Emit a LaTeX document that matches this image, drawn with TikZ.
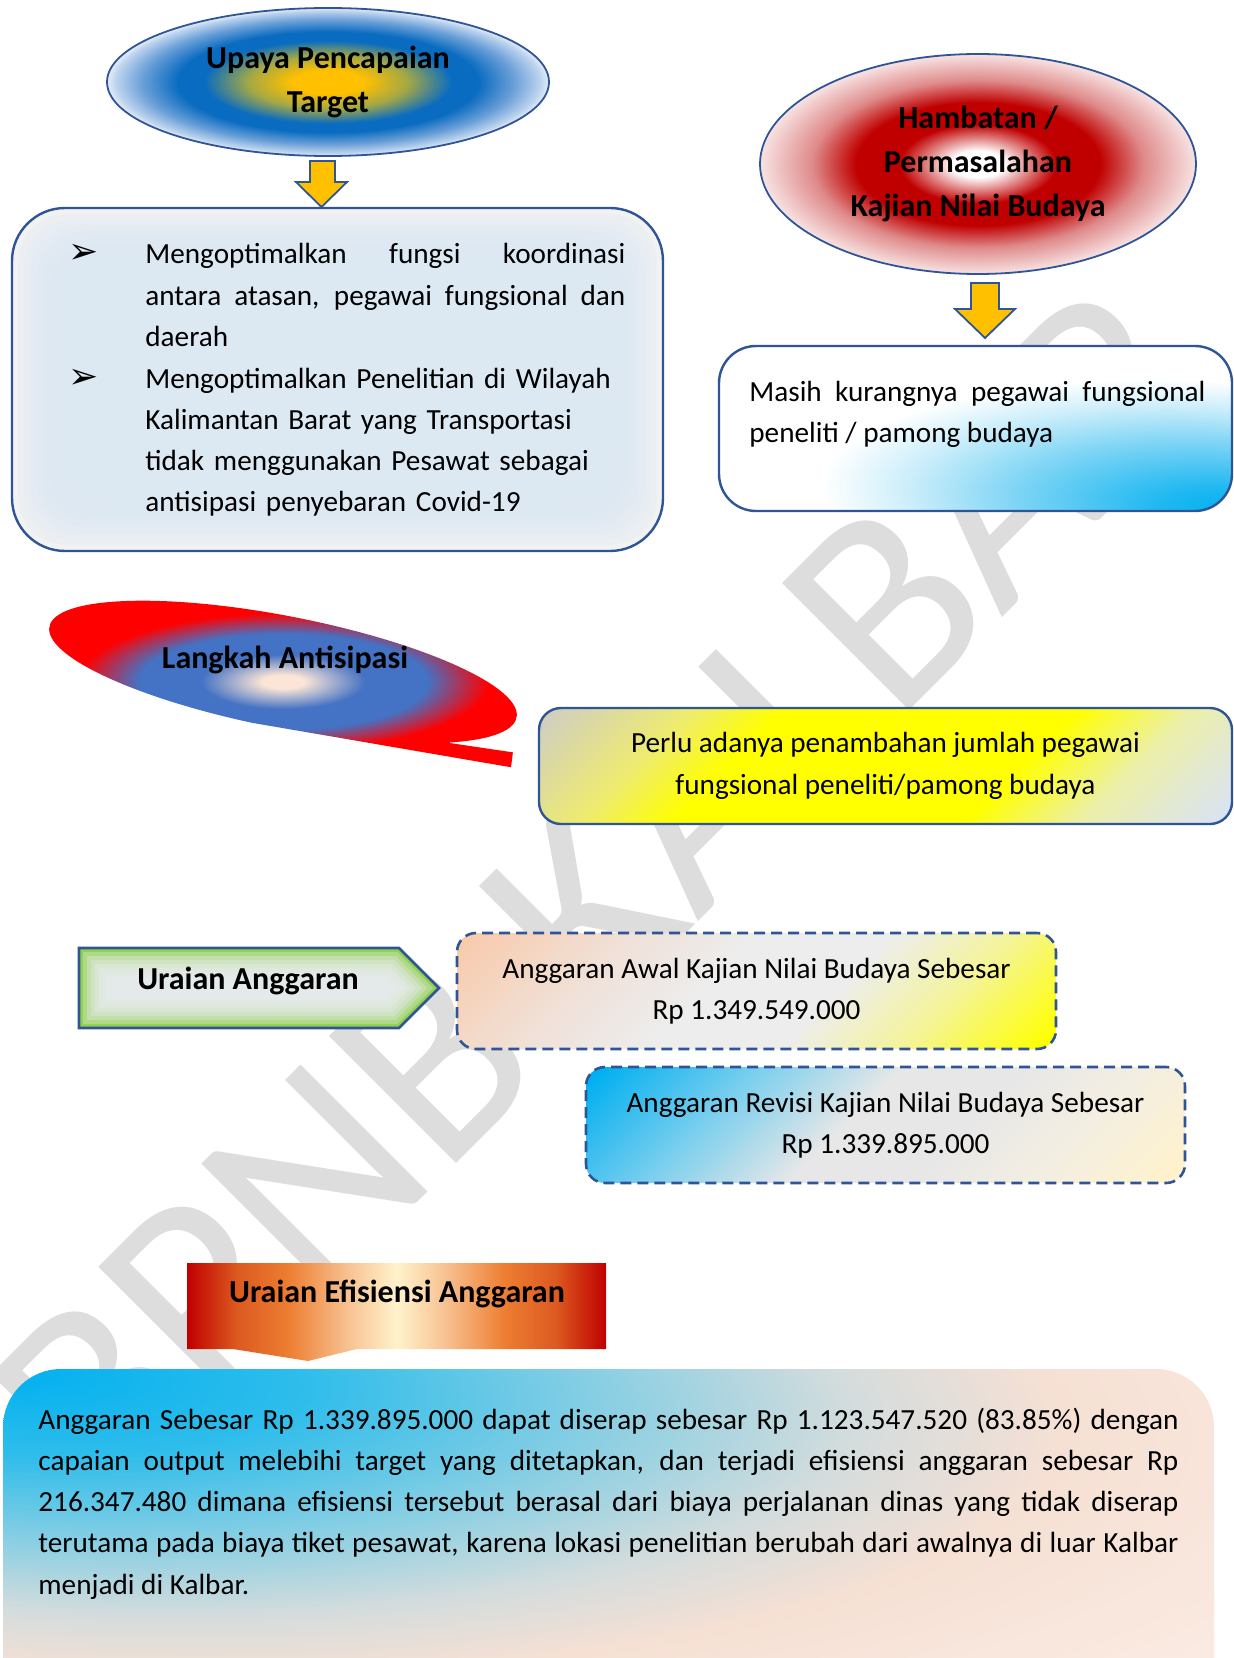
\documentclass[tikz,border=0pt]{standalone}
\usepackage{fontspec}
\setmainfont{Carlito}
\newfontfamily\dingfont{DejaVu Sans}
\usetikzlibrary{shapes.geometric}
\tolerance=9999
\hbadness=10000
\hyphenpenalty=10000

\definecolor{BorderBlue}{HTML}{2F5597}
\definecolor{ArrowGold}{HTML}{FFC000}
\definecolor{MarkGray}{HTML}{DDDDDD}
\definecolor{PaleBlue}{HTML}{DCE8F5}
\definecolor{GlowWhite}{HTML}{F2F2F2}
\definecolor{LeafGreen}{HTML}{92D050}
\definecolor{MistWhite}{HTML}{EBEEF5}
% ellipse colours
\definecolor{OliveMix}{HTML}{A4A845}
\definecolor{CoreBlue}{HTML}{0A6CC0}
\definecolor{SkyBlue}{HTML}{6A9FD8}
\definecolor{IceBlue}{HTML}{BCD3EE}
\definecolor{EdgeBlue}{HTML}{E4EDF7}
\definecolor{CrimsonRed}{HTML}{C00000}
\definecolor{RoseRed}{HTML}{DF8A8A}
\definecolor{BlushPink}{HTML}{F8E3E3}
\definecolor{PeachCore}{HTML}{FBE5D6}
\definecolor{BlueMid}{HTML}{4472C4}
\definecolor{PureRed}{HTML}{FF0000}
% box colours
\definecolor{KhakiGray}{HTML}{D1CFBF}
\definecolor{LemonMix}{HTML}{EEEB70}
\definecolor{PureYellow}{HTML}{FFFF00}
\definecolor{PaleYellow}{HTML}{ECEFA8}
\definecolor{LavenderBlue}{HTML}{DAE3F3}
\definecolor{SalmonPeach}{HTML}{F8CBAD}
\definecolor{AshPeach}{HTML}{F0E2DA}
\definecolor{SoftGray}{HTML}{EDEDED}
\definecolor{ButterYellow}{HTML}{F4F49A}
\definecolor{CyanBright}{HTML}{00B0F0}
\definecolor{CyanSoft}{HTML}{7DCFEE}
\definecolor{CloudGray}{HTML}{E7E7E7}
\definecolor{CreamGray}{HTML}{F3EEE2}
\definecolor{CreamYellow}{HTML}{FFF2CC}
\definecolor{RustRed}{HTML}{DC5A20}
\definecolor{FlameOrange}{HTML}{ED7D31}
\definecolor{ApricotLight}{HTML}{F7C08F}
\definecolor{CyanMid}{HTML}{22B9F1}
\definecolor{CyanLight}{HTML}{7FD5F5}
\definecolor{CyanPale}{HTML}{C9EDFA}
\definecolor{SeaBlue}{HTML}{2FBDEB}
\definecolor{HazeBlue}{HTML}{8ACFE3}
\definecolor{HazeGray}{HTML}{D3DCDD}
\definecolor{PeachSoft}{HTML}{F6E0D4}
\definecolor{PeachLight}{HTML}{FAE9E0}
\definecolor{PeachFaint}{HTML}{FDF5F1}

% shadings
\pgfdeclareradialshading{upayashade}{\pgfpoint{0bp}{0bp}}{%
  color(0bp)=(ArrowGold); color(4bp)=(ArrowGold); color(9bp)=(OliveMix);
  color(14bp)=(CoreBlue); color(17bp)=(CoreBlue); color(21bp)=(SkyBlue);
  color(24bp)=(IceBlue); color(25bp)=(EdgeBlue); color(50bp)=(EdgeBlue)}
\pgfdeclareradialshading{hambatanshade}{\pgfpoint{0bp}{0bp}}{%
  color(0bp)=(white); color(3bp)=(white); color(9bp)=(CrimsonRed);
  color(14bp)=(CrimsonRed); color(19bp)=(RoseRed); color(25bp)=(BlushPink);
  color(50bp)=(BlushPink)}
\pgfdeclareradialshading{langshade}{\pgfpoint{0bp}{0bp}}{%
  color(0bp)=(PeachCore); color(2bp)=(PeachCore); color(8bp)=(BlueMid);
  color(14bp)=(BlueMid); color(20bp)=(PureRed); color(50bp)=(PureRed)}
\pgfdeclareradialshading{masihshade}{\pgfpoint{25bp}{-25bp}}{%
  color(0bp)=(CyanBright); color(6bp)=(CyanMid); color(17bp)=(CyanLight);
  color(25bp)=(CyanPale); color(32bp)=(white); color(100bp)=(white)}
\pgfdeclareradialshading{noteshade}{\pgfpoint{-25bp}{25bp}}{%
  color(0bp)=(CyanBright); color(10bp)=(SeaBlue); color(20bp)=(HazeBlue);
  color(28bp)=(HazeGray); color(35bp)=(PeachSoft); color(46bp)=(PeachLight);
  color(60bp)=(PeachFaint); color(70bp)=(white); color(100bp)=(white)}
\pgfdeclarehorizontalshading{perlushade}{100bp}{%
  color(0bp)=(KhakiGray); color(16bp)=(KhakiGray); color(28bp)=(LemonMix);
  color(36bp)=(PureYellow); color(62bp)=(PureYellow); color(72bp)=(PaleYellow);
  color(84bp)=(LavenderBlue); color(100bp)=(LavenderBlue)}
\pgfdeclarehorizontalshading{awalshade}{100bp}{%
  color(0bp)=(SalmonPeach); color(16bp)=(SalmonPeach); color(33bp)=(AshPeach);
  color(45bp)=(SoftGray); color(58bp)=(SoftGray); color(70bp)=(ButterYellow);
  color(84bp)=(PureYellow); color(100bp)=(PureYellow)}
\pgfdeclarehorizontalshading{revisishade}{100bp}{%
  color(0bp)=(CyanBright); color(16bp)=(CyanBright); color(32bp)=(CyanSoft);
  color(46bp)=(CloudGray); color(58bp)=(CloudGray); color(70bp)=(CreamGray);
  color(84bp)=(CreamYellow); color(100bp)=(CreamYellow)}
\pgfdeclarehorizontalshading{efishade}{100bp}{%
  color(0bp)=(CrimsonRed); color(25bp)=(CrimsonRed); color(31bp)=(RustRed);
  color(37bp)=(FlameOrange); color(44bp)=(ApricotLight); color(50bp)=(CreamYellow);
  color(56bp)=(ApricotLight); color(63bp)=(FlameOrange); color(69bp)=(RustRed);
  color(75bp)=(CrimsonRed); color(100bp)=(CrimsonRed)}

\newcommand{\diagbody}{\fontsize{14.6}{20.65}\selectfont}
\newcommand{\diaghead}{\fontsize{16}{22}\selectfont\bfseries}

\tikzset{
  bodytext/.style={font=\diagbody, text=black, inner sep=0pt},
  headtext/.style={font=\diaghead, text=black, inner sep=0pt, align=center},
  bullettext/.style={font=\dingfont\fontsize{18}{18}\selectfont, text=black, inner sep=0pt, anchor=base},
  framebox/.style={draw=BorderBlue, line width=1.2pt},
  dashbox/.style={draw=BorderBlue, line width=1.3pt, dash pattern=on 5.5pt off 3pt,
    rounded corners=9.5pt, shade, shading angle=-45},
  blockarrow/.style={fill=ArrowGold, draw=BorderBlue, line width=0.9pt, line join=miter},
  watermark/.style={rotate=45, font=\fontsize{140}{140}\selectfont, text=MarkGray, inner sep=0pt}
}

\begin{document}
\begin{tikzpicture}[x=0.5pt,y=-0.5pt]
  \useasboundingbox (0,0) rectangle (1234,1658);
  \begin{scope}
  \clip (0,0) rectangle (1234,1658);
  % Watermark
  \node[watermark] (mark) at (600,893) {BPNB KALBAR};

  % Upaya pencapaian target
  \node[ellipse, draw=BorderBlue, line width=0.9pt, shade, shading=upayashade,
    minimum width=221pt, minimum height=74pt, headtext] (upaya) at (328,82) {Upaya Pencapaian\\Target};
  \filldraw[blockarrow] (310,161) -- (335,161) -- (335,182) -- (347,182) -- (321.5,207)
    -- (296,182) -- (310,182) -- cycle;
  \fill[GlowWhite, rounded corners=26.5pt] (12,208) rectangle (663,551);
  \foreach \d in {6,12,...,54}
    \fill[PaleBlue, opacity=0.25, rounded corners=24pt] (12+\d,208+\d) rectangle (663-\d,551-\d);
  \draw[framebox, rounded corners=26.5pt] (12,208) rectangle (663,551);
  \node[bullettext] (bulletA) at (84,264) {➢};
  \node[bodytext, anchor=base west, text width=240pt, align=justify] (itemA) at (145,264)
    {Mengoptimalkan fungsi koordinasi\linebreak antara atasan, pegawai fungsional dan\linebreak daerah};
  \node[bullettext] (bulletB) at (84,388) {➢};
  \node[bodytext, anchor=base west, text width=240pt, align=left] (itemB) at (145,388)
    {Mengoptimalkan Penelitian di Wilayah\\Kalimantan Barat yang Transportasi\\tidak menggunakan Pesawat sebagai\\antisipasi penyebaran Covid-19};

  % Hambatan
  \node[ellipse, draw=BorderBlue, line width=0.9pt, shade, shading=hambatanshade,
    minimum width=218pt, minimum height=110pt, headtext] (hambatan) at (978,164)
    {Hambatan /\\Permasalahan\\Kajian Nilai Budaya};
  \filldraw[blockarrow] (971,283) -- (999,283) -- (999,309) -- (1015,309) -- (985,338)
    -- (955,309) -- (971,309) -- cycle;
  \path[shade, shading=masihshade, framebox, rounded corners=18.5pt] (719,346) rectangle (1232,511);
  \node[bodytext, anchor=base west, text width=228pt, align=justify] (masih) at (749,401)
    {Masih kurangnya pegawai fungsional\linebreak peneliti / pamong budaya};

  % Langkah antisipasi
  \begin{scope}[shift={(283,672)}, rotate=-11]
    \shade[shading=langshade] ({238*cos(42.7)},{56*sin(42.7)})
      arc[start angle=42.7, end angle=-265, x radius=238, y radius=56]
      -- (242,50) -- (241,35) -- cycle;
  \end{scope}
  \node[headtext] (langkah) at (285,660) {Langkah Antisipasi};
  \node[framebox, rounded corners=11pt, shade, shading=perlushade, shading angle=-45,
    minimum width=346.5pt, minimum height=58pt, bodytext, align=center] (perlu) at (885.5,766)
    {Perlu adanya penambahan jumlah pegawai\\fungsional peneliti/pamong budaya};

  % Uraian anggaran
  \fill[LeafGreen] (79,948) -- (399,948) -- (439,988) -- (399,1028) -- (79,1028) -- cycle;
  \foreach \d in {4,8,...,28}
    \fill[MistWhite, opacity=0.33] (79+\d,948+\d) -- (399-0.414*\d,948+\d) -- (439-1.414*\d,988)
      -- (399-0.414*\d,1028-\d) -- (79+\d,1028-\d) -- cycle;
  \draw[BorderBlue, line width=1.3pt, line join=miter] (79,948) -- (399,948) -- (439,988)
    -- (399,1028) -- (79,1028) -- cycle;
  \node[headtext] (uraian) at (248,981) {Uraian Anggaran};
  \node[dashbox, shading=awalshade, minimum width=299.5pt, minimum height=58pt,
    bodytext, align=center] (awal) at (756.5,991)
    {Anggaran Awal Kajian Nilai Budaya Sebesar\\Rp 1.349.549.000};
  \node[dashbox, shading=revisishade, minimum width=299.5pt, minimum height=58pt,
    bodytext, align=center] (revisi) at (885.5,1125)
    {Anggaran Revisi Kajian Nilai Budaya Sebesar\\Rp 1.339.895.000};

  % Uraian efisiensi
  \shade[shading=efishade] (187,1263) -- (606,1263) -- (606,1349) -- (357,1349) -- (308,1361)
    -- (233,1349) -- (187,1349) -- cycle;
  \node[headtext] (efisiensi) at (397,1294) {Uraian Efisiensi Anggaran};
  \shade[shading=noteshade, rounded corners=29pt] (3,1369) rectangle (1214,1720);
  \node[bodytext, anchor=base west, text width=570pt, align=justify] (catatan) at (38,1429)
    {Anggaran Sebesar Rp 1.339.895.000 dapat diserap sebesar Rp 1.123.547.520 (83.85\%) dengan\linebreak
     capaian output melebihi target yang ditetapkan, dan terjadi efisiensi anggaran sebesar Rp\linebreak
     216.347.480 dimana efisiensi tersebut berasal dari biaya perjalanan dinas yang tidak diserap\linebreak
     terutama pada biaya tiket pesawat, karena lokasi penelitian berubah dari awalnya di luar Kalbar\linebreak
     menjadi di Kalbar.};
  \end{scope}
\end{tikzpicture}
\end{document}
